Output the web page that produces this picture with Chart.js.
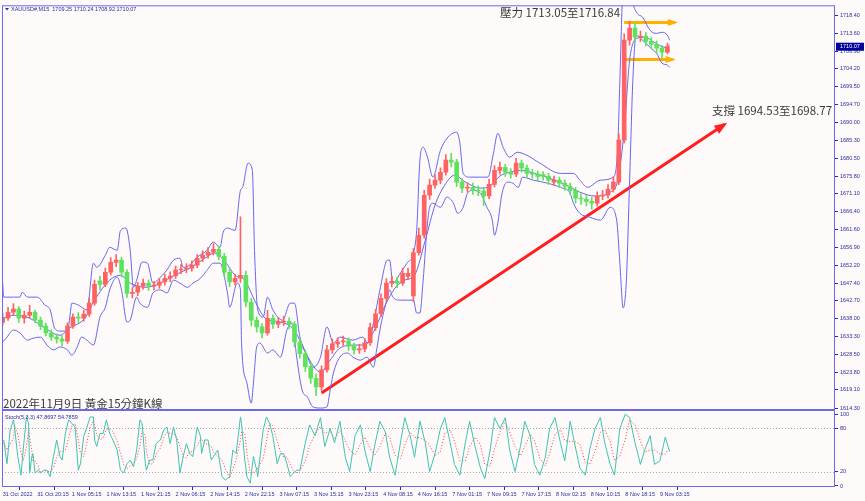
<!DOCTYPE html>
<html>
<head>
<meta charset="utf-8">
<script src="https://cdn.jsdelivr.net/npm/chart.js@4.4.0/dist/chart.umd.min.js"></script>
<style>
  html, body { margin: 0; padding: 0; background: #fffafa; }
  canvas { display: block; }
</style>
</head>
<body>
<canvas id="xauChart" width="865" height="501"></canvas>
<script>
// x unit = one M15 bar; each drawn candle groups 5 bars
const barStep = 5;
const timeLabels = ['31 Oct 2022', '31 Oct 20:15', '1 Nov 05:15', '1 Nov 13:15', '1 Nov 21:15', '2 Nov 06:15',
  '2 Nov 14:15', '2 Nov 22:15', '3 Nov 07:15', '3 Nov 15:15', '3 Nov 23:15', '4 Nov 08:15', '4 Nov 16:15',
  '7 Nov 01:15', '7 Nov 09:15', '7 Nov 17:15', '8 Nov 02:15', '8 Nov 10:15', '8 Nov 18:15', '9 Nov 03:15'];
const timeTickBars = [0, 32, 64, 96, 128, 160, 192, 224, 256, 288, 320, 352, 384, 416, 448, 480, 512, 544, 576, 608];
const priceTicks = [1718.40, 1713.60, 1708.90, 1704.20, 1699.50, 1694.70, 1690.00, 1685.30, 1680.50, 1675.80,
  1671.10, 1666.40, 1661.60, 1656.90, 1652.20, 1647.40, 1642.70, 1638.00, 1633.30, 1628.50, 1623.80, 1619.10, 1614.30];
const stochTicks = [100, 80, 20, 0];

const opens = [
  1637.0, 1638.1, 1639.7, 1640.5, 1638.1, 1638.9, 1639.7, 1637.6, 1636.0, 1634.2,
  1633.1, 1632.6, 1632.0, 1636.0, 1638.4, 1638.1, 1639.2, 1642.1, 1648.0, 1647.1,
  1650.3, 1652.9, 1653.5, 1650.3, 1644.7, 1645.0, 1646.6, 1647.4, 1646.6, 1646.9,
  1647.7, 1648.7, 1649.3, 1650.9, 1651.1, 1651.4, 1652.2, 1654.0, 1654.8, 1655.6,
  1656.4, 1654.5, 1650.3, 1647.7, 1648.7, 1649.5, 1642.4, 1637.6, 1635.8, 1634.2,
  1638.1, 1636.5, 1637.1, 1637.3, 1636.5, 1631.8, 1628.7, 1625.3, 1622.2, 1619.9,
  1624.4, 1629.7, 1631.3, 1631.8, 1632.1, 1630.7, 1629.7, 1630.0, 1631.6, 1635.6,
  1639.3, 1643.4, 1647.4, 1647.9, 1647.4, 1649.2, 1644.0, 1655.5, 1660.1, 1670.7,
  1673.4, 1674.7, 1676.8, 1680.0, 1679.5, 1674.2, 1672.6, 1672.8, 1672.0, 1671.8,
  1670.5, 1673.6, 1677.3, 1678.1, 1676.8, 1676.3, 1679.2, 1677.9, 1676.5, 1676.3,
  1676.2, 1675.7, 1674.2, 1674.7, 1673.9, 1673.1, 1672.0, 1669.9, 1669.7, 1669.1,
  1668.6, 1670.5, 1670.7, 1672.3, 1674.2, 1685.3, 1711.8, 1715.0, 1712.6, 1712.9,
  1711.5, 1710.7, 1709.7, 1708.6
];
const highs = [
  1639.5, 1641.0, 1642.0, 1641.2, 1640.0, 1641.5, 1640.3, 1638.4, 1636.8, 1635.0,
  1634.0, 1633.5, 1636.9, 1639.3, 1639.6, 1640.2, 1643.4, 1648.2, 1649.3, 1651.4,
  1654.2, 1655.0, 1654.3, 1651.0, 1646.2, 1647.6, 1648.5, 1648.3, 1647.9, 1648.6,
  1649.8, 1650.4, 1651.9, 1652.4, 1652.6, 1653.3, 1655.0, 1656.0, 1656.8, 1657.9,
  1657.2, 1655.3, 1651.2, 1649.8, 1665.0, 1650.6, 1643.4, 1638.5, 1636.7, 1640.2,
  1639.0, 1638.3, 1638.6, 1638.2, 1637.2, 1632.5, 1629.6, 1626.4, 1623.4, 1625.5,
  1630.9, 1632.6, 1633.0, 1633.4, 1632.9, 1631.5, 1631.2, 1632.7, 1636.8, 1640.4,
  1644.6, 1648.6, 1649.3, 1649.0, 1651.3, 1651.4, 1656.6, 1662.0, 1672.0, 1675.0,
  1676.2, 1678.0, 1681.5, 1681.8, 1680.2, 1675.1, 1674.0, 1673.9, 1673.2, 1672.7,
  1675.0, 1678.6, 1679.5, 1678.9, 1677.8, 1680.5, 1680.0, 1678.7, 1677.6, 1677.2,
  1677.0, 1676.5, 1675.8, 1675.5, 1674.8, 1673.9, 1672.8, 1671.0, 1670.6, 1670.2,
  1671.6, 1672.0, 1673.5, 1675.6, 1687.0, 1713.5, 1716.8, 1716.5, 1714.2, 1713.8,
  1712.6, 1711.6, 1710.4, 1711.0
];
const lows = [
  1636.2, 1637.5, 1639.0, 1637.0, 1636.8, 1638.2, 1636.9, 1635.1, 1633.4, 1632.2,
  1631.5, 1630.8, 1631.4, 1635.4, 1637.0, 1637.3, 1638.6, 1641.5, 1645.6, 1646.5,
  1649.6, 1651.8, 1649.0, 1643.6, 1643.5, 1644.1, 1645.8, 1645.5, 1645.6, 1646.0,
  1646.9, 1647.8, 1648.6, 1649.9, 1650.2, 1650.6, 1651.5, 1653.1, 1654.0, 1654.9,
  1653.6, 1649.2, 1646.5, 1646.9, 1647.6, 1641.2, 1636.1, 1634.4, 1632.9, 1633.6,
  1635.4, 1635.6, 1636.2, 1635.3, 1630.5, 1627.5, 1624.0, 1620.8, 1617.6, 1619.0,
  1623.8, 1628.8, 1630.4, 1630.9, 1629.6, 1628.6, 1628.8, 1629.2, 1630.9, 1634.9,
  1638.5, 1642.7, 1646.4, 1646.2, 1646.8, 1648.3, 1642.5, 1654.8, 1659.3, 1669.6,
  1672.5, 1673.8, 1676.0, 1678.2, 1673.0, 1671.4, 1671.5, 1670.9, 1670.6, 1668.0,
  1669.8, 1672.9, 1676.3, 1675.7, 1675.2, 1675.6, 1676.8, 1675.5, 1675.2, 1674.6,
  1674.7, 1673.6, 1673.3, 1672.8, 1672.0, 1670.9, 1668.6, 1668.3, 1667.9, 1667.0,
  1667.8, 1669.5, 1669.9, 1671.5, 1673.5, 1684.6, 1710.5, 1711.4, 1711.5, 1710.3,
  1709.5, 1708.4, 1707.1, 1708.2
];
const closes = [
  1638.1, 1639.7, 1640.5, 1638.1, 1638.9, 1639.7, 1637.6, 1636.0, 1634.2, 1633.1,
  1632.6, 1632.0, 1636.0, 1638.4, 1638.1, 1639.2, 1642.1, 1647.1, 1647.1, 1650.3,
  1652.9, 1653.5, 1650.3, 1644.7, 1645.0, 1646.6, 1647.4, 1646.6, 1646.9, 1647.7,
  1648.7, 1649.3, 1650.9, 1651.1, 1651.4, 1652.2, 1654.0, 1654.8, 1655.6, 1656.4,
  1654.5, 1650.3, 1647.7, 1648.7, 1649.5, 1642.4, 1637.6, 1635.8, 1634.2, 1638.1,
  1636.5, 1637.1, 1637.3, 1636.5, 1631.8, 1628.7, 1625.3, 1622.2, 1619.9, 1624.4,
  1629.7, 1631.3, 1631.8, 1632.1, 1630.7, 1629.7, 1630.0, 1631.6, 1635.6, 1639.3,
  1643.4, 1647.4, 1647.9, 1647.4, 1650.0, 1650.0, 1655.5, 1660.1, 1670.7, 1673.4,
  1674.7, 1676.8, 1680.0, 1679.5, 1674.2, 1672.6, 1672.8, 1672.0, 1671.8, 1670.5,
  1673.6, 1677.3, 1678.1, 1676.8, 1676.3, 1679.2, 1677.9, 1676.5, 1676.3, 1675.7,
  1675.7, 1674.7, 1674.7, 1673.9, 1673.1, 1672.0, 1669.9, 1669.7, 1669.1, 1668.6,
  1670.5, 1670.7, 1672.3, 1674.2, 1685.3, 1711.8, 1715.0, 1712.6, 1712.9, 1711.5,
  1710.7, 1709.7, 1708.6, 1710.1
];
const lastPrice = 1710.07;

// bollinger lines read as [bar, price]
const upperBand = [[0,1647.4],[1,1643.7],[10,1643.7],[16,1643.7],[18,1645.0],[23,1643.7],[32,1643.7],[39,1641.6],[44,1640.3],
  [48,1635.5],[53,1634.7],[60,1634.7],[62,1638.1],[64,1642.1],[70,1641.6],[78,1640.3],[84,1652.7],[87,1651.6],[95,1654.8],
  [99,1656.9],[106,1656.1],[109,1661.4],[114,1662.0],[118,1656.1],[121,1646.3],[124,1648.2],[129,1653.0],[134,1652.7],
  [139,1647.4],[146,1649.0],[152,1650.9],[158,1653.5],[164,1654.0],[167,1651.6],[173,1652.2],[180,1654.3],[189,1656.1],
  [195,1658.3],[201,1656.9],[204,1660.9],[208,1662.0],[215,1661.4],[220,1672.0],[222,1672.8],[227,1679.2],[231,1677.3],
  [233,1656.1],[236,1640.3],[241,1638.4],[245,1643.7],[250,1640.3],[259,1637.6],[266,1642.1],[270,1642.1],[275,1633.1],
  [282,1627.8],[287,1625.1],[294,1627.8],[300,1635.8],[306,1631.5],[312,1633.1],[324,1632.3],[333,1633.1],[338,1631.5],
  [343,1636.8],[349,1645.6],[356,1653.5],[358,1653.5],[361,1647.4],[368,1650.1],[374,1652.7],[380,1655.4],[383,1661.4],
  [386,1680.0],[389,1683.4],[393,1680.8],[398,1675.5],[405,1682.6],[411,1685.8],[420,1687.4],[423,1684.5],[426,1676.5],
  [432,1675.5],[442,1675.5],[449,1675.5],[454,1681.8],[458,1687.1],[463,1683.4],[469,1680.8],[476,1682.1],[485,1681.3],
  [497,1679.2],[516,1676.5],[528,1676.5],[534,1674.7],[541,1672.8],[553,1674.7],[565,1675.5],[569,1683.4],[571,1701.2],
  [574,1725.0],[580,1726.3],[583,1721.6],[587,1718.9],[592,1717.9],[599,1714.4],[605,1713.6],[610,1713.9],[615,1713.1],
  [617,1711.8]];
const middleBand = [[0,1638.1],[11,1638.9],[25,1638.1],[39,1635.5],[53,1633.6],[62,1635.5],[76,1638.1],[85,1642.9],
  [99,1648.2],[109,1649.5],[118,1647.4],[132,1646.3],[146,1647.4],[159,1649.5],[173,1651.4],[187,1654.0],[196,1655.4],
  [206,1653.0],[215,1649.5],[224,1648.2],[233,1642.9],[243,1638.1],[257,1637.1],[268,1635.5],[275,1632.3],[284,1627.0],
  [294,1623.8],[303,1627.0],[312,1630.2],[326,1631.0],[335,1631.0],[344,1635.0],[354,1641.6],[363,1646.1],[372,1648.2],
  [381,1649.5],[391,1658.8],[400,1668.1],[409,1673.4],[418,1676.0],[428,1674.2],[442,1672.6],[451,1673.1],[460,1675.8],
  [469,1676.8],[479,1677.3],[492,1676.5],[506,1675.2],[520,1673.6],[534,1671.5],[548,1670.5],[562,1671.5],[569,1674.7],
  [575,1687.9],[580,1706.5],[587,1712.3],[594,1712.6],[603,1711.2],[613,1709.9],[617,1710.5]];
const lowerBand = [[0,1631.8],[4,1633.1],[10,1635.0],[16,1634.2],[23,1632.3],[28,1632.8],[35,1633.1],[41,1631.0],[47,1629.7],
  [53,1630.5],[60,1629.7],[64,1628.3],[69,1630.5],[73,1633.1],[78,1632.3],[84,1631.0],[90,1638.4],[95,1641.0],[99,1645.6],
  [106,1649.0],[110,1645.6],[115,1637.1],[118,1637.6],[124,1643.7],[127,1642.1],[134,1641.0],[139,1644.8],[146,1645.6],
  [152,1644.8],[158,1648.2],[164,1647.4],[171,1646.3],[176,1647.4],[183,1648.7],[189,1650.8],[195,1652.7],[201,1652.7],
  [208,1644.8],[210,1641.0],[217,1647.4],[220,1645.6],[221,1631.5],[226,1620.9],[230,1615.6],[232,1620.9],[235,1630.5],
  [238,1631.5],[245,1628.9],[250,1629.7],[257,1627.8],[263,1635.0],[268,1636.8],[272,1627.8],[277,1619.1],[282,1617.2],
  [287,1614.6],[294,1614.3],[300,1614.6],[303,1619.1],[306,1623.6],[312,1627.8],[319,1628.9],[324,1627.8],[331,1627.0],
  [337,1627.8],[343,1625.1],[346,1629.7],[349,1635.0],[356,1643.7],[358,1645.6],[361,1643.7],[368,1642.9],[374,1642.9],
  [380,1642.9],[383,1639.5],[386,1639.5],[389,1648.2],[393,1663.3],[395,1667.5],[398,1668.6],[405,1667.5],[411,1670.2],
  [417,1668.6],[421,1665.9],[426,1667.5],[430,1671.2],[435,1672.0],[442,1671.2],[448,1667.5],[453,1664.1],[455,1660.1],
  [458,1663.3],[462,1671.2],[467,1674.2],[472,1673.9],[477,1672.8],[481,1675.5],[491,1674.7],[504,1673.9],[516,1672.8],
  [525,1671.2],[528,1668.6],[534,1665.9],[543,1664.9],[553,1664.1],[562,1667.5],[568,1664.1],[571,1652.7],[574,1640.8],
  [577,1648.2],[580,1674.7],[583,1701.2],[586,1713.1],[592,1711.8],[599,1709.9],[605,1708.3],[610,1705.7],[615,1705.2],
  [617,1704.6]];

// drawn lines: support trend and resistance zone arrows
const trendLine = [[295, 1618.3], [668, 1689.5]];
const zoneTop = [[575, 1716.5], [622, 1716.5]];
const zoneBottom = [[575, 1706.7], [620, 1706.7]];

// stochastic (5,3,3)
const stochX = [1,4,7,10,11,14,17,19,22,24, 25,27,28,30,33,35,38,41,44,47, 50,53,55,58,61,64,67,70,72,75,
  78,81,84,85,87,90,93,96,99,102, 106,109,112,115,118,121,124,127,129,132, 133,136,139,142,146,149,152,155,158,161,
  164,167,170,173,176,180,183,184,187,190, 193,195,199,203,206,210,213,216,220,221, 224,226,229,232,235,236,241,244,247,250,
  254,257,260,263,266,269,272, 275,280,284,289,294,298,303,307,312,317, 321,326,331,335,340,344,349,354,358,363,
  368,372,377,381,386,391,395,400,405,409, 414,418,423,428,432,437,442,446,451,455, 460,465,469,474,479,483,488,492,497,502,
  506,511,516,520,525,529,534,539,543,548, 553,557,562,566,571,576,580,585,590,594, 599,603,608,613,617];
const stochMain = [64,31,78,92,82,41,15,50,96,87, 18,41,45,18,22,18,22,22,13,41, 64,41,36,73,92,87,82,22,31,69,
  82,96,96,64,55,73,73,92,73,64, 50,22,18,31,36,27,50,92,87,31, 22,36,36,59,64,78,82,59,82,64,
  18,41,59,45,41,82,69,45,64,64, 36,41,50,13,8,13,50,45,96,87, 36,13,4,41,22,13,78,96,87,69,
  31,45,45,31,13,18,22, 22,60,85,70,95,55,80,60,90,40, 20,70,85,50,20,55,90,75,40,15,
  60,95,70,40,90,60,20,45,80,95, 60,30,15,60,90,55,25,10,50,95, 80,95,50,20,55,90,70,30,15,40,
  80,95,60,35,90,60,25,15,50,80, 95,60,30,15,80,100,95,60,30,50, 70,30,35,68,47.87];
const stochSignal = [60,50,58,67,84,72,46,35,54,78, 67,49,35,35,28,19,21,21,19,25, 39,49,47,50,67,84,87,64,45,41,
  61,82,91,85,72,64,67,79,79,76, 62,45,30,24,28,31,38,56,76,70, 47,30,31,44,53,67,75,73,74,68,
  55,41,39,48,48,56,64,65,59,58, 55,47,42,35,24,11,24,36,64,76, 73,45,18,19,22,25,38,62,87,84,
  62,48,40,40,30,21,18, 21,35,56,72,83,73,77,65,77,63, 50,43,58,68,52,42,55,73,68,43,
  38,57,75,68,67,63,57,42,48,73, 78,62,35,35,55,68,57,30,28,52, 75,90,75,55,42,55,72,63,38,28,
  45,72,78,63,62,62,58,33,30,48, 75,78,62,35,42,65,92,85,62,47, 50,50,45,44,54.79];

const candleColor = ctx => closes[ctx.dataIndex] >= opens[ctx.dataIndex] ? '#ff6262' : '#5ee25e';
const pts = arr => arr.map(p => ({ x: p[0], y: p[1] }));
const bandStyle = { type: 'line', yAxisID: 'y', borderColor: '#6666ee', borderWidth: 1, pointRadius: 0,
  cubicInterpolationMode: 'monotone', fill: false };
const smallFont = { family: 'Liberation Sans', size: 5.5 };
const navy = '#2b2b9e';
const frameBlue = '#6a6aea';

function arrowHead(ctx, meta, size, color) {
  const p1 = meta.data[meta.data.length - 2], p2 = meta.data[meta.data.length - 1];
  const a = Math.atan2(p2.y - p1.y, p2.x - p1.x);
  ctx.save();
  ctx.fillStyle = color;
  ctx.beginPath();
  ctx.moveTo(p2.x + 3 * Math.cos(a), p2.y + 3 * Math.sin(a));
  ctx.lineTo(p2.x - size * Math.cos(a - 0.45), p2.y - size * Math.sin(a - 0.45));
  ctx.lineTo(p2.x - size * Math.cos(a + 0.45), p2.y - size * Math.sin(a + 0.45));
  ctx.closePath();
  ctx.fill();
  ctx.restore();
}

const decorPlugin = {
  id: 'decor',
  beforeDraw(chart) {
    const c = chart.ctx;
    c.save();
    c.fillStyle = '#fffafa';
    c.fillRect(0, 0, chart.width, chart.height);
    c.restore();
  },
  beforeDatasetsDraw(chart) {
    const c = chart.ctx, a = chart.chartArea, s2 = chart.scales.y2;
    c.save();
    c.strokeStyle = '#a8a8a8';
    c.lineWidth = 1;
    c.setLineDash([1, 2]);
    [80, 20].forEach(v => {
      const y = Math.round(s2.getPixelForValue(v)) + 0.5;
      c.beginPath(); c.moveTo(a.left, y); c.lineTo(a.right, y); c.stroke();
    });
    c.restore();
  },
  afterDatasetsDraw(chart) {
    const c = chart.ctx;
    arrowHead(c, chart.getDatasetMeta(6), 11, '#ff1f1f');
    arrowHead(c, chart.getDatasetMeta(7), 8, '#ffb000');
    arrowHead(c, chart.getDatasetMeta(8), 8, '#ffb000');
  },
  afterDraw(chart) {
    const c = chart.ctx, a = chart.chartArea, sy = chart.scales.y;
    c.save();
    // frame
    c.strokeStyle = frameBlue;
    c.lineWidth = 1;
    c.strokeRect(a.left + 0.5, a.top + 0.5, a.right - a.left - 1, a.bottom - a.top - 1);
    c.lineWidth = 2;
    c.beginPath(); c.moveTo(a.left, sy.bottom); c.lineTo(a.right, sy.bottom); c.stroke();
    // header texts
    c.fillStyle = navy;
    c.font = '5.5px "Liberation Sans"';
    c.textBaseline = 'middle';
    c.beginPath(); c.moveTo(5, 8); c.lineTo(9, 8); c.lineTo(7, 10.5); c.closePath(); c.fill();
    c.fillText('XAUUSD#,M15  1709.25 1710.24 1708.92 1710.07', 11, 9);
    c.fillText('Stoch(5,3,3) 47.8697 54.7859', 5, sy.bottom + 7);
    // current price label
    const py = sy.getPixelForValue(lastPrice);
    c.fillStyle = '#00009a';
    c.fillRect(a.right + 1, py - 4, 28, 8);
    c.fillStyle = '#ffffff';
    c.fillText(lastPrice.toFixed(2), a.right + 5, py);
    // annotations
    c.fillStyle = '#3a3a3a';
    c.font = '11.5px "Noto Sans CJK TC"';
    c.textBaseline = 'alphabetic';
    c.fillText('壓力 1713.05至1716.84', 500, 17);
    c.fillText('支撐 1694.53至1698.77', 712, 115);
    c.fillText('2022年11月9日 黃金15分鐘K線', 3, 408);
    c.restore();
  }
};

const ctx = document.getElementById('xauChart').getContext('2d');
new Chart(ctx, {
  type: 'bar',
  data: {
    datasets: [
      { type: 'bar', yAxisID: 'y', grouped: false, barThickness: 1, backgroundColor: candleColor, borderWidth: 0,
        data: highs.map((h, i) => ({ x: i * barStep, y: [lows[i], h] })) },
      { type: 'bar', yAxisID: 'y', grouped: false, barThickness: 4, backgroundColor: candleColor, borderWidth: 0,
        minBarLength: 1,
        data: opens.map((o, i) => ({ x: i * barStep, y: [o, closes[i]] })) },
      Object.assign({ data: pts(upperBand) }, bandStyle),
      Object.assign({ data: pts(middleBand) }, bandStyle),
      Object.assign({ data: pts(lowerBand) }, bandStyle),
      { type: 'line', yAxisID: 'y2', borderColor: '#3ec4b0', borderWidth: 1, pointRadius: 0,
        data: stochX.map((x, i) => ({ x: x, y: stochMain[i] })) },
      { type: 'line', yAxisID: 'y', borderColor: '#ff1f1f', borderWidth: 3, pointRadius: 0,
        data: pts(trendLine) },
      { type: 'line', yAxisID: 'y', borderColor: '#ffb000', borderWidth: 3, pointRadius: 0,
        data: pts(zoneTop) },
      { type: 'line', yAxisID: 'y', borderColor: '#ffb000', borderWidth: 3, pointRadius: 0,
        data: pts(zoneBottom) },
      { type: 'line', yAxisID: 'y2', borderColor: '#ff3b3b', borderWidth: 1, borderDash: [1, 2], pointRadius: 0,
        data: stochX.map((x, i) => ({ x: x, y: stochSignal[i] })) }
    ]
  },
  options: {
    responsive: false,
    animation: false,
    layout: { padding: { left: 2, top: 5, right: 0, bottom: 0 } },
    plugins: { legend: { display: false }, tooltip: { enabled: false } },
    scales: {
      x: {
        type: 'linear', offset: false, min: -0.6, max: 770,
        afterBuildTicks: s => { s.ticks = timeTickBars.map(v => ({ value: v })); },
        afterFit: s => { s.height = 14; },
        ticks: { autoSkip: false, maxRotation: 0, align: 'start', padding: 1, color: navy, font: smallFont,
          callback: (v, i) => timeLabels[i] },
        grid: { drawOnChartArea: false, tickLength: 3, color: navy },
        border: { display: false }
      },
      y: {
        type: 'linear', position: 'right', stack: 'panes', stackWeight: 405, min: 1613.77, max: 1721.05,
        afterBuildTicks: s => { s.ticks = priceTicks.map(v => ({ value: v })); },
        afterFit: s => { s.width = 30; },
        ticks: { autoSkip: false, padding: 2, color: navy, font: smallFont, callback: v => v.toFixed(2) },
        grid: { drawOnChartArea: false, tickLength: 3, color: navy },
        border: { display: false }
      },
      y2: {
        type: 'linear', position: 'right', stack: 'panes', stackWeight: 77, min: -1.4, max: 105.6,
        afterBuildTicks: s => { s.ticks = stochTicks.map(v => ({ value: v })); },
        afterFit: s => { s.width = 30; },
        ticks: { autoSkip: false, padding: 2, color: navy, font: smallFont, callback: v => String(v) },
        grid: { drawOnChartArea: false, tickLength: 3, color: navy },
        border: { display: false }
      }
    }
  },
  plugins: [decorPlugin]
});
</script>
</body>
</html>
